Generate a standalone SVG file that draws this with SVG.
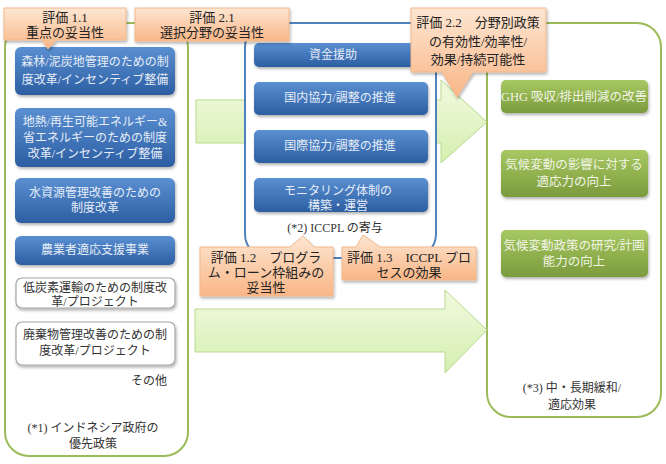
<svg xmlns="http://www.w3.org/2000/svg" width="666" height="464" viewBox="0 0 666 464">
<defs>
<linearGradient id="gBlue" x1="0" y1="0" x2="0" y2="1"><stop offset="0" stop-color="#5a8fd2"/><stop offset="1" stop-color="#2c5ea2"/></linearGradient>
<linearGradient id="gGreen" x1="0" y1="0" x2="0" y2="1"><stop offset="0" stop-color="#a7c862"/><stop offset="1" stop-color="#7b9b3d"/></linearGradient>
<linearGradient id="gCall" x1="0" y1="0" x2="0" y2="1"><stop offset="0" stop-color="#fde6d2"/><stop offset="1" stop-color="#f9b686"/></linearGradient>
<linearGradient id="gArrow" x1="0" y1="0" x2="0" y2="1"><stop offset="0" stop-color="#f0fadf"/><stop offset="1" stop-color="#d6efb0"/></linearGradient>
<filter id="sh" x="-10%" y="-10%" width="120%" height="130%"><feDropShadow dx="1" dy="2" stdDeviation="1.5" flood-color="#000" flood-opacity="0.3"/></filter>
</defs>
<style>
text{font-family:"Liberation Serif","Noto Sans CJK JP",serif;text-anchor:middle}
.cont{fill:#fff;stroke-width:2}
.gc{stroke:#9bbb59}
.bc{stroke:#4f81bd}
.blue{fill:url(#gBlue);filter:url(#sh)}
.green{fill:url(#gGreen);filter:url(#sh)}
.white{fill:#fff;stroke:#a6a6a6;stroke-width:1.2;filter:url(#sh)}
.call{fill:url(#gCall);stroke:#f2b98c;stroke-width:1;filter:url(#sh)}
.arrow{fill:url(#gArrow);stroke:#b9d98f;stroke-width:1}
.tw{fill:#e6edf7;font-size:12px}
.tg{fill:#f1f5e4;font-size:12.5px}
.tk{fill:#333;font-size:12px}
.tc{fill:#222;font-size:13px}
</style>
<g id="left-container"><rect class="cont gc" x="5" y="23" width="183" height="433" rx="24"/></g>
<g id="right-container"><rect class="cont gc" x="487" y="23" width="174" height="394" rx="24"/></g>
<g id="connectors">
<path class="arrow" d="M196,100 H441 V80 L487,122 L441,163 V143 H196 Z"/>
<path class="arrow" d="M195,309 H445 V290 L487,330 L445,373 V352 H195 Z"/>
</g>
<g id="middle-container"><rect class="cont bc" x="245" y="23" width="191" height="235" rx="24"/></g>

<g id="n-forest"><rect class="blue" x="15" y="47" width="160" height="48" rx="6"/><text class="tw" x="95" y="66">森林/泥炭地管理のための制</text><text class="tw" x="95" y="84">度改革/インセンティブ整備</text></g>
<g id="n-geo"><rect class="blue" x="15" y="108" width="160" height="59" rx="6"/><text class="tw" x="95" y="126">地熱/再生可能エネルギー&amp;</text><text class="tw" x="95" y="142">省エネルギーのための制度</text><text class="tw" x="95" y="158">改革/インセンティブ整備</text></g>
<g id="n-water"><rect class="blue" x="15" y="178" width="160" height="45" rx="6"/><text class="tw" x="95" y="197">水資源管理改善のための</text><text class="tw" x="95" y="212">制度改革</text></g>
<g id="n-farm"><rect class="blue" x="15" y="236" width="160" height="29" rx="6"/><text class="tw" x="95" y="254">農業者適応支援事業</text></g>
<g id="n-transport"><rect class="white" x="16" y="278" width="159" height="30" rx="6"/><text class="tk" x="95" y="292">低炭素運輸のための制度改</text><text class="tk" x="95" y="306">革/プロジェクト</text></g>
<g id="n-waste"><rect class="white" x="16" y="322" width="159" height="43" rx="6"/><text class="tk" x="95" y="339">廃棄物管理改善のための制</text><text class="tk" x="95" y="355">度改革/プロジェクト</text></g>
<g id="n-other"><text class="tk" x="167" y="385" style="text-anchor:end">その他</text></g>
<g id="n-label1"><text class="tk" x="93" y="432">(*1) インドネシア政府の</text><text class="tk" x="93" y="448">優先政策</text></g>

<g id="n-fund"><rect class="blue" x="254" y="43" width="174" height="24" rx="5"/><text class="tw" x="333" y="59">資金援助</text></g>
<g id="n-domestic"><rect class="blue" x="254" y="82" width="174" height="33" rx="5"/><text class="tw" x="340" y="102">国内協力/調整の推進</text></g>
<g id="n-intl"><rect class="blue" x="254" y="130" width="174" height="33" rx="5"/><text class="tw" x="340" y="150">国際協力/調整の推進</text></g>
<g id="n-monitor"><rect class="blue" x="254" y="178" width="174" height="34" rx="5"/><text class="tw" x="338" y="195">モニタリング体制の</text><text class="tw" x="338" y="210">構築・運営</text></g>
<g id="n-label2"><text class="tk" x="335" y="232">(*2) ICCPL の寄与</text></g>

<g id="n-ghg"><rect class="green" x="501" y="80" width="147" height="33" rx="5"/><text class="tg" x="574" y="101">GHG 吸収/排出削減の改善</text></g>
<g id="n-adapt"><rect class="green" x="501" y="150" width="147" height="47" rx="5"/><text class="tg" x="574" y="169">気候変動の影響に対する</text><text class="tg" x="574" y="186">適応力の向上</text></g>
<g id="n-research"><rect class="green" x="501" y="230" width="147" height="47" rx="5"/><text class="tg" x="574" y="250">気候変動政策の研究/計画</text><text class="tg" x="574" y="266">能力の向上</text></g>
<g id="n-label3"><text class="tk" x="572" y="392">(*3)  中・長期緩和/</text><text class="tk" x="572" y="409">適応効果</text></g>

<g id="c-11"><path class="call" d="M4,8 H126 V40 H56 L48,49 L42,40 H4 Z"/><text class="tc" x="65" y="22">評価 1.1</text><text class="tc" x="65" y="37">重点の妥当性</text></g>
<g id="c-21"><rect class="call" x="135" y="8" width="154" height="33"/><text class="tc" x="212" y="22">評価 2.1</text><text class="tc" x="212" y="37">選択分野の妥当性</text></g>
<g id="c-22"><path class="call" d="M411,8 H546 V72 H473 L457,97 L442,72 H411 Z"/><text class="tc" x="478" y="27">評価 2.2　分野別政策</text><text class="tc" x="478" y="46">の有効性/効率性/</text><text class="tc" x="478" y="64">効果/持続可能性</text></g>
<g id="c-12"><path class="call" d="M200,247 H290 L303,236 L314,247 H333 V296 H200 Z"/><text class="tc" x="266" y="262">評価 1.2　プログラ</text><text class="tc" x="266" y="277">ム・ローン枠組みの</text><text class="tc" x="266" y="292">妥当性</text></g>
<g id="c-13"><path class="call" d="M342,247 H356 L363,235 L380,247 H476 V280 H342 Z"/><text class="tc" x="409" y="262">評価 1.3　ICCPL プロ</text><text class="tc" x="409" y="277">セスの効果</text></g>
</svg>
